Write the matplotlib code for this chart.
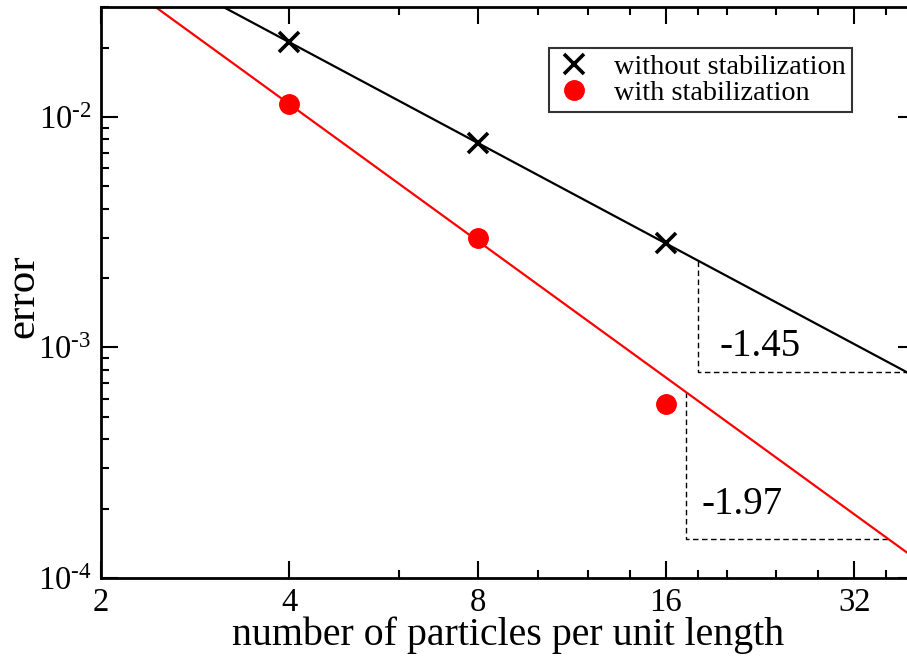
import numpy as np
import matplotlib
matplotlib.use("Agg")
import matplotlib.pyplot as plt
from matplotlib.ticker import FixedLocator, NullFormatter, LogLocator, FuncFormatter

# ---- data ----
n_particles = [4, 8, 16]
err_without = [0.0211, 0.00772, 0.00285]
err_with = [0.01138, 0.00299, 0.000566]
slope_without = -1.45
coef_without = 0.1575
slope_with = -1.97
coef_with = 0.1745
label_without = "without stabilization"
label_with = "with stabilization"
x_major = [2, 4, 8, 16, 32]
x_minor = [6, 10, 12, 14, 18, 20, 24, 28, 36]
tri_without = (18.0, 38.9)
tri_with = (17.2, 36.3)
slope_labels = ["-1.45", "-1.97"]

plt.rcParams['font.family'] = ['Liberation Serif', 'DejaVu Serif']
plt.rcParams['mathtext.fontset'] = 'custom'
plt.rcParams['mathtext.rm'] = 'Liberation Serif'
plt.rcParams['mathtext.it'] = 'Liberation Serif:italic'

W, H = 907, 656
fig = plt.figure(figsize=(W/100, H/100), dpi=100)
xmin, xmax = 2.0, 40.0
px_oct = 188.3
ax_w = (np.log2(xmax) - np.log2(xmin)) * px_oct
ax = fig.add_axes([101/W, 1-578/H, ax_w/W, (578-7)/H])
ax.set_xscale('log')
ax.set_yscale('log')
ax.set_xlim(xmin, xmax)
ax.set_ylim(1e-4, 3e-2)

xs = np.geomspace(xmin, xmax, 200)
ax.plot(xs, coef_without*xs**slope_without, color='black', lw=1.6, zorder=2)
ax.plot(xs, coef_with*xs**slope_with, color='#ff0000', lw=1.6, zorder=2)
ax.plot(n_particles, err_without, ls='none', marker='x', ms=14, mew=2.6,
        color='black', label=label_without, zorder=3)
ax.plot(n_particles, err_with, ls='none', marker='o', ms=14,
        color='#ff0000', mec='#ff0000', label=label_with, zorder=3)

for (x0, x1), c, s in [(tri_without, coef_without, slope_without),
                       (tri_with, coef_with, slope_with)]:
    y0 = c*x0**s
    y1 = c*x1**s
    ax.plot([x0, x0, x1], [y0, y1, y1], color='black', lw=1.0,
            ls=(0, (4, 2.5)), zorder=1)

ax.text(22.6, 1.01e-3, slope_labels[0], fontsize=28, ha='center', va='center')
ax.text(21.2, 2.09e-4, slope_labels[1], fontsize=28, ha='center', va='center')

ax.xaxis.set_major_locator(FixedLocator(x_major))
ax.xaxis.set_minor_locator(FixedLocator(x_minor))
ax.xaxis.set_minor_formatter(NullFormatter())
ax.set_xticklabels([str(v) for v in x_major])
ax.yaxis.set_major_locator(LogLocator(base=10, numticks=10))
ax.yaxis.set_minor_locator(LogLocator(base=10, subs=np.arange(2, 10), numticks=20))
ax.yaxis.set_minor_formatter(NullFormatter())
ax.yaxis.set_major_formatter(FuncFormatter(
    lambda v, p: r"$10^{\text{-}%d}$" % int(round(-np.log10(v)))))

ax.tick_params(which='both', direction='in', top=True, right=True,
               labelsize=23.5, width=1.5)
ax.tick_params(which='major', length=12, pad=7)
ax.tick_params(which='minor', length=6)
for sp in ax.spines.values():
    sp.set_linewidth(2.0)

ax.set_xlabel("number of particles per unit length", fontsize=28.7, labelpad=-1)
ax.set_ylabel("error", fontsize=31)
ax.yaxis.set_label_coords((42-101)/ax_w, (578-296)/571)

leg = ax.legend(loc='upper right', bbox_to_anchor=((852-101)/ax_w, (578-48)/571),
                bbox_transform=ax.transAxes, borderaxespad=0, fontsize=20.3,
                frameon=True, fancybox=False, edgecolor='black',
                handlelength=1.3, handletextpad=0.78, labelspacing=0.0,
                borderpad=0.22, numpoints=1)
leg.get_frame().set_linewidth(1.5)

fig.savefig("out.png", dpi=100)
